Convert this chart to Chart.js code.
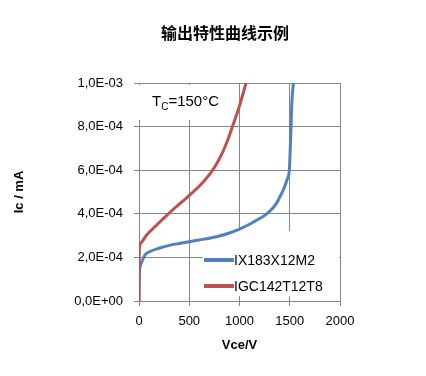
<!DOCTYPE html>
<html>
<head>
<meta charset="utf-8">
<script src="https://cdn.jsdelivr.net/npm/chart.js@4/dist/chart.umd.min.js"></script>
<style>
html,body{margin:0;padding:0;background:#fff;}
#wrap{width:426px;height:376px;}
</style>
</head>
<body>
<div id="wrap"><canvas id="c" width="426" height="376"></canvas></div>
<script>
const chartTitle = "输出特性曲线示例";
const seriesNames = ["IX183X12M2", "IGC142T12T8"];
const seriesColors = ["#4F81BD", "#C0504D"];
// IX183X12M2: Vce (V), Ic
const blueV = [0, 3, 12, 27, 60, 109, 200, 300, 400, 500, 600, 700, 800, 900, 1000, 1100, 1200, 1271, 1330, 1370, 1410, 1450, 1475, 1496, 1505, 1513, 1520, 1536];
const blueI = [0, 1.2e-4, 1.6e-4, 1.78e-4, 2.12e-4, 2.27e-4, 2.42e-4, 2.55e-4, 2.64e-4, 2.72e-4, 2.8e-4, 2.88e-4, 2.98e-4, 3.12e-4, 3.3e-4, 3.52e-4, 3.78e-4, 4.0e-4, 4.25e-4, 4.5e-4, 4.85e-4, 5.25e-4, 5.6e-4, 6.0e-4, 7.0e-4, 8.0e-4, 9.0e-4, 1.0e-3];
// IGC142T12T8
const redV = [0, 0.5, 2, 7, 27, 76, 159, 292, 420, 534, 650, 740, 820, 880, 930, 1000, 1065];
const redI = [0, 1.0e-4, 2.0e-4, 2.5e-4, 2.7e-4, 3.03e-4, 3.41e-4, 4.0e-4, 4.52e-4, 4.98e-4, 5.52e-4, 6.05e-4, 6.7e-4, 7.35e-4, 8.0e-4, 8.95e-4, 1.0e-3];
const xTickValues = [0, 500, 1000, 1500, 2000];
const xTickLabels = ["0", "500", "1000", "1500", "2000"];
const yTickValues = [0, 2e-4, 4e-4, 6e-4, 8e-4, 1e-3];
const yTickLabels = ["0,0E+00", "2,0E-04", "4,0E-04", "6,0E-04", "8,0E-04", "1,0E-03"];
const xTitle = "Vce/V";
const yTitle = "Ic / mA";

const gridColor = "#868686";
const FONT = "'Liberation Sans', Arial, sans-serif";

function pts(xs, ys){ return xs.map((x,i)=>({x:x, y:ys[i]})); }

const overlay = {
  id: 'overlay',
  beforeDatasetsDraw(chart){
    const ctx = chart.ctx;
    ctx.save();
    ctx.fillStyle = '#fff';
    ctx.fillRect(137, 85, 88, 35);
    ctx.fillRect(203, 231, 136, 65);
    ctx.restore();
  },
  afterDatasetsDraw(chart){
    const ctx = chart.ctx;
    ctx.save();
    ctx.fillStyle = '#000';
    ctx.textBaseline = 'alphabetic';
    ctx.textAlign = 'left';
    let x = 152, y = 106;
    ctx.font = "15px " + FONT;
    ctx.fillText("T", x, y); x += ctx.measureText("T").width;
    ctx.font = "10px " + FONT;
    ctx.fillText("C", x, y + 4); x += ctx.measureText("C").width;
    ctx.font = "15px " + FONT;
    ctx.fillText("=150°C", x, y);
    const rows = [260, 286];
    ctx.font = "14px " + FONT;
    ctx.textBaseline = 'middle';
    rows.forEach((ry, i) => {
      ctx.strokeStyle = seriesColors[i];
      ctx.lineWidth = 4;
      ctx.lineCap = 'butt';
      ctx.beginPath(); ctx.moveTo(204, ry); ctx.lineTo(234, ry); ctx.stroke();
      ctx.fillStyle = '#000';
      ctx.fillText(seriesNames[i], 234, ry + 1);
    });
    ctx.restore();
  },
  afterDraw(chart){
    const ctx = chart.ctx;
    ctx.save();
    ctx.fillStyle = '#000';
    ctx.font = "bold 16px 'Noto Sans CJK SC', sans-serif";
    ctx.textAlign = 'center';
    ctx.textBaseline = 'middle';
    ctx.fillText(chartTitle, 225, 33);
    ctx.restore();
  }
};

new Chart(document.getElementById('c'), {
  type: 'line',
  data: {
    datasets: [
      { label: seriesNames[0], data: pts(blueV, blueI), borderColor: seriesColors[0], backgroundColor: seriesColors[0],
        borderWidth: 3, pointRadius: 0, cubicInterpolationMode: 'monotone', fill: false, order: 1 },
      { label: seriesNames[1], data: pts(redV, redI), borderColor: seriesColors[1], backgroundColor: seriesColors[1],
        borderWidth: 3, pointRadius: 0, cubicInterpolationMode: 'monotone', fill: false, order: 0 }
    ]
  },
  options: {
    responsive: false,
    devicePixelRatio: 1,
    animation: false,
    layout: { padding: { top: 83, left: 0, right: 0, bottom: 0 } },
    plugins: { legend: { display: false }, tooltip: { enabled: false }, title: { display: false } },
    scales: {
      x: {
        type: 'linear', min: 0, max: 2000,
        afterBuildTicks(s){ s.ticks = xTickValues.map(v => ({value: v})); },
        afterFit(s){ s.height = 75; },
        grid: { color: gridColor, lineWidth: 1, drawTicks: true, tickLength: 5 },
        border: { display: true, color: gridColor, width: 1 },
        ticks: { color: '#000', font: { family: FONT, size: 13 }, padding: 8, maxRotation: 0,
          callback(v, i){ return xTickLabels[i]; } },
        title: { display: true, text: xTitle, color: '#000', font: { family: FONT, size: 13, weight: 'bold' }, padding: { top: 0, bottom: 23 } }
      },
      y: {
        type: 'linear', min: 0, max: 1e-3,
        afterBuildTicks(s){ s.ticks = yTickValues.map(v => ({value: v})); },
        afterFit(s){ s.width = 139; },
        grid: { color: gridColor, lineWidth: 1, drawTicks: true, tickLength: 5 },
        border: { display: true, color: gridColor, width: 1 },
        ticks: { color: '#000', font: { family: FONT, size: 13 }, padding: 11,
          callback(v, i){ return yTickLabels[i]; } },
        title: { display: true, text: yTitle, color: '#000', font: { family: FONT, size: 13, weight: 'bold' }, padding: { top: 12, bottom: 0 } }
      },
      y2: {
        type: 'linear', position: 'right', min: 0, max: 1, display: true,
        afterFit(s){ s.width = 86; },
        grid: { display: false, drawOnChartArea: false },
        border: { display: false },
        ticks: { display: false }
      }
    }
  },
  plugins: [overlay]
});
</script>
</body>
</html>
